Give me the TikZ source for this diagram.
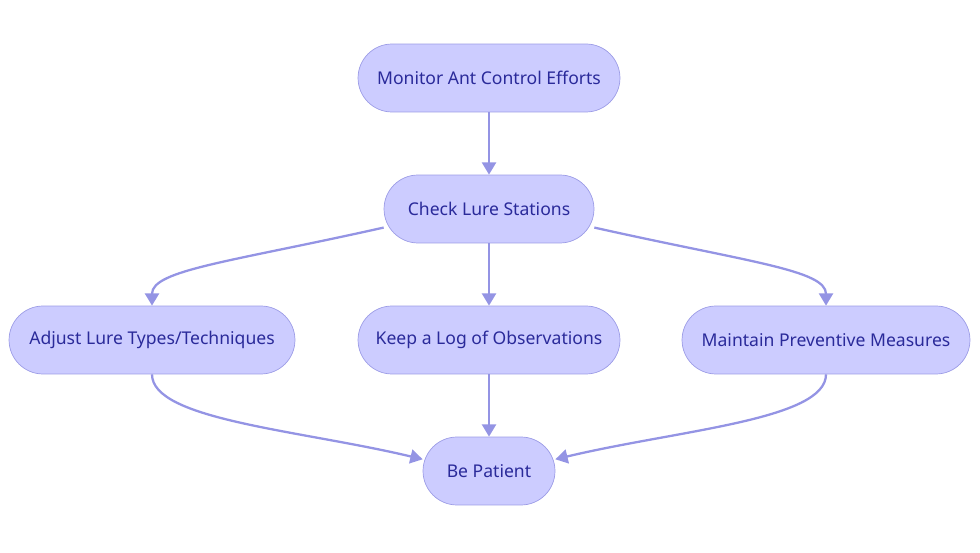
\documentclass[tikz,border=0pt]{standalone}
\usepackage{fontspec}
\setmainfont{Noto Sans}
\usetikzlibrary{arrows.meta}
\definecolor{boxfill}{HTML}{CCCCFF}
\definecolor{boxline}{HTML}{9C9CE6}
\definecolor{boxtext}{HTML}{2A2A9A}
\definecolor{linkcol}{HTML}{9494E4}
\tikzset{
  stage/.style={draw=boxline,fill=boxfill,text=boxtext,rounded corners=0.68cm,
    minimum height=1.36cm,font=\fontsize{10}{12}\selectfont,inner sep=0pt},
  link/.style={draw=linkcol,line width=1.3pt,-{Triangle[length=7pt,width=8pt]}}
}
\begin{document}
\begin{tikzpicture}[x=0.02cm,y=-0.02cm]
\useasboundingbox (0,0) rectangle (980,553);
\node[stage,minimum width=5.24cm] (monitor) at (489,78) {Monitor Ant Control Efforts};
\node[stage,minimum width=4.2cm] (check) at (489,209) {Check Lure Stations};
\node[stage,minimum width=5.72cm] (adjust) at (152,340) {Adjust Lure Types/Techniques};
\node[stage,minimum width=5.24cm] (log) at (489,340) {Keep a Log of Observations};
\node[stage,minimum width=5.76cm] (maintain) at (826,340) {Maintain Preventive Measures};
\node[stage,minimum width=2.64cm] (patient) at (489,471) {Be Patient};
% links
\draw[link] (monitor) -- (check);
\draw[link] (check) -- (log);
\draw[link] (log) -- (patient);
\draw[link] (check.190) .. controls (230,262) and (152,270) .. (adjust.north);
\draw[link] (check.350) .. controls (748,262) and (826,270) .. (maintain.north);
\draw[link] (adjust.south) .. controls (152,420) and (300,430) .. (patient.170);
\draw[link] (maintain.south) .. controls (826,420) and (678,430) .. (patient.10);
\end{tikzpicture}
\end{document}
